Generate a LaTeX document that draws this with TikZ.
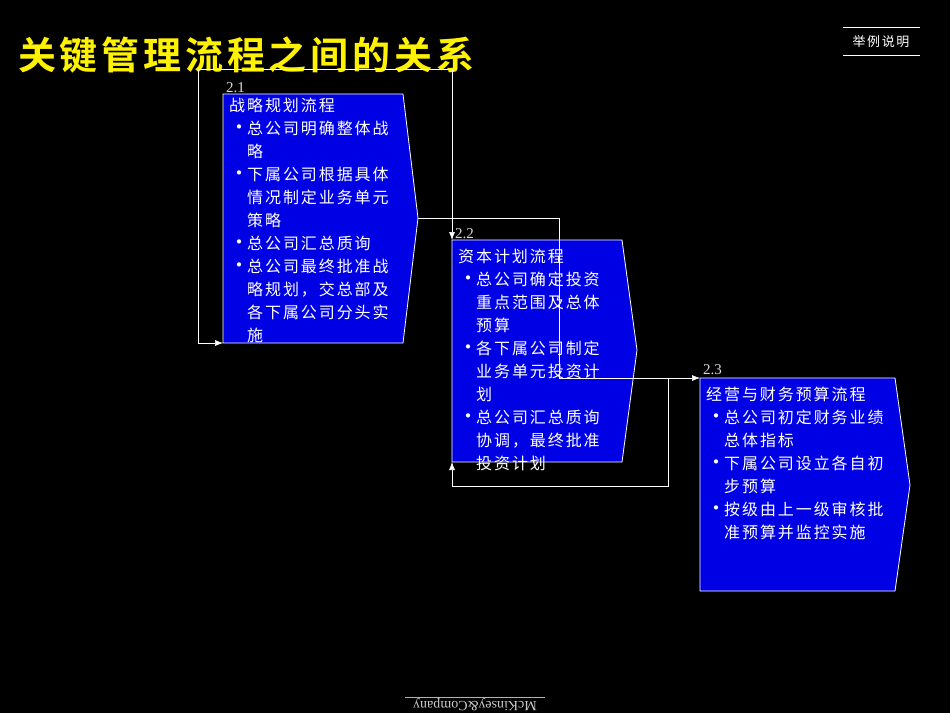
\documentclass[tikz,border=0pt]{standalone}
\usepackage{fontspec}
\setmainfont{Liberation Serif}
\newfontfamily\cjk[LetterSpace=12]{Noto Sans CJK SC}
\newfontfamily\cjkbold[LetterSpace=10]{Noto Sans CJK SC Bold}
\usetikzlibrary{positioning,arrows.meta}
\tikzset{
  procbox/.style={draw=white, fill=blue!90!black, thick},
  flow/.style={white, semithick},
  tip/.style={-{Latex[length=8pt,width=6pt]}},
  boxtext/.style={anchor=north west, text=white, align=left, inner sep=0pt,
    font=\cjk\fontsize{16}{23}\selectfont},
  numlabel/.style={anchor=south west, text=white!85!black, inner sep=0pt,
    font=\fontsize{15}{15}\selectfont},
}
\newcommand{\itm}{\makebox[18pt][l]{\fontsize{20}{20}\selectfont\textbullet}}
\newcommand{\ind}{\hspace*{18pt}}
\begin{document}
\begin{tikzpicture}[x=1pt,y=-1pt]
\fill[black] (0,0) rectangle (950,713);
\useasboundingbox (0,0) rectangle (950,713);
% title
\node[anchor=west, text=yellow, inner sep=0pt, font=\cjkbold\fontsize{38}{38}\selectfont] (title) at (18,55) {关键管理流程之间的关系};
\draw[white] (843,27) -- (920,27);
\draw[white] (843,55) -- (920,55);
\node[text=white, font=\cjk\fontsize{13}{13}\selectfont, inner sep=0pt] (tag) at (881,42) {举例说明};
% boxes
\draw[procbox] (223,94) -- (403,94) -- (418,218) coordinate (tipA) -- (403,343) -- (223,343) coordinate (botA) -- cycle;
\draw[procbox] (452,240) coordinate (topB) -- (622,240) -- (637,350) -- (622,462) -- (452,462) coordinate (botB) -- cycle;
\draw[procbox] (700,378) coordinate (topC) -- (895,378) -- (910,485) -- (895,591) -- (700,591) -- cycle;
\node[numlabel] (numA) at (226,93) {2.1};
\node[numlabel] (numB) at (455,239) {2.2};
\node[numlabel] (numC) at (703,375) {2.3};
\node[boxtext] (textA) at (229,98) {战略规划流程\\
\itm 总公司明确整体战\\ \ind 略\\
\itm 下属公司根据具体\\ \ind 情况制定业务单元\\ \ind 策略\\
\itm 总公司汇总质询\\
\itm 总公司最终批准战\\ \ind 略规划，交总部及\\ \ind 各下属公司分头实\\ \ind 施};
\node[boxtext] (textB) at (458,249) {资本计划流程\\
\itm 总公司确定投资\\ \ind 重点范围及总体\\ \ind 预算\\
\itm 各下属公司制定\\ \ind 业务单元投资计\\ \ind 划\\
\itm 总公司汇总质询\\ \ind 协调，最终批准\\ \ind 投资计划};
\node[boxtext] (textC) at (706,387) {经营与财务预算流程\\
\itm 总公司初定财务业绩\\ \ind 总体指标\\
\itm 下属公司设立各自初\\ \ind 步预算\\
\itm 按级由上一级审核批\\ \ind 准预算并监控实施};
% connectors
\draw[flow,tip] (topB |- 0,69) -- (198,69) -- (198,343) -- (botA);
\draw[flow,tip] (topB |- 0,69) -- (topB);
\draw[flow,tip] (tipA) -- (559,218) -- (559,378) -- (topC);
\draw[flow,tip] (668,378) -- (668,486) -- (452,486) -- (botB);
% logo
\draw[white!70!black] (405,697) -- (545,697);
\node[rotate=180, text=white!80!black, font=\fontsize{14}{14}\selectfont, inner sep=1pt] (logo) at (475,705) {McKinsey\&Company};
\end{tikzpicture}
\end{document}
